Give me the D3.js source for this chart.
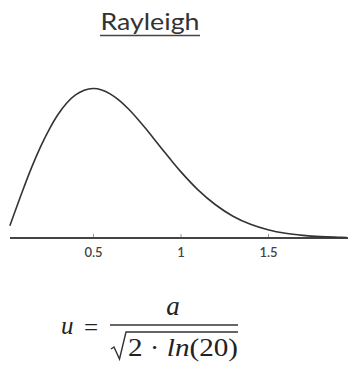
<!DOCTYPE html>
<html>
<head>
<meta charset="utf-8">
<script src="https://cdn.jsdelivr.net/npm/d3@7"></script>
<style>
  html, body { margin: 0; padding: 0; background: #fff; }
  svg { display: block; }
</style>
</head>
<body>
<svg id="chart" width="351" height="367"></svg>
<script>
// Density curve samples (x, density)
const xs = [0.025, 0.1, 0.15, 0.2, 0.25, 0.3, 0.35, 0.4, 0.45, 0.5, 0.55, 0.6, 0.65, 0.7, 0.75, 0.8, 0.85, 0.9, 0.95, 1.0, 1.1, 1.2, 1.3, 1.4, 1.5, 1.6, 1.7, 1.8, 1.9, 1.95];
const ys = [0.10, 0.392, 0.575, 0.739, 0.882, 1.002, 1.096, 1.162, 1.200, 1.213, 1.202, 1.168, 1.117, 1.051, 0.974, 0.890, 0.802, 0.713, 0.625, 0.541, 0.391, 0.270, 0.177, 0.111, 0.067, 0.038, 0.021, 0.011, 0.006, 0.004];
const tickValues = [0.5, 1, 1.5];
const tickLabels = ["0.5", "1", "1.5"];
const title = "Rayleigh";

const svg = d3.select("#chart");

const x = d3.scaleLinear().domain([0, 1]).range([5.5, 180.5]);
const y = d3.scaleLinear().domain([0, 1.25]).range([238, 84]);

// Title with underline
svg.append("text")
  .attr("x", 150).attr("y", 29.5)
  .attr("text-anchor", "middle")
  .attr("font-family", "Lato, 'Open Sans', sans-serif")
  .attr("font-size", 24)
  .attr("fill", "#333")
  .attr("textLength", 99)
  .attr("lengthAdjust", "spacingAndGlyphs")
  .text(title);
svg.append("line")
  .attr("x1", 100).attr("x2", 200)
  .attr("y1", 35.5).attr("y2", 35.5)
  .attr("stroke", "#444").attr("stroke-width", 1.5);

// Horizontal axis
svg.append("line")
  .attr("x1", 10).attr("x2", 348)
  .attr("y1", y(0)).attr("y2", y(0))
  .attr("stroke", "#444").attr("stroke-width", 2);

const axis = d3.axisBottom(x)
  .tickValues(tickValues)
  .tickFormat((d, i) => tickLabels[i])
  .tickSizeInner(-3)
  .tickSizeOuter(0)
  .tickPadding(11);
const ag = svg.append("g")
  .attr("transform", `translate(0,${y(0) - 1})`)
  .call(axis);
ag.select(".domain").remove();
ag.selectAll(".tick line").attr("stroke", "#999").attr("stroke-width", 1);
ag.selectAll(".tick text")
  .attr("font-family", "Lato, 'Open Sans', sans-serif")
  .attr("font-size", 13)
  .attr("font-weight", 600)
  .attr("fill", "#444");

// Density curve
const pts = xs.map((v, i) => [v, ys[i]]);
svg.append("path")
  .datum(pts)
  .attr("fill", "none")
  .attr("stroke", "#333")
  .attr("stroke-width", 1.6)
  .attr("d", d3.line().x(d => x(d[0])).y(d => y(d[1])).curve(d3.curveCatmullRom));

// Formula: u = a / sqrt(2 · ln(20))
const mathFont = "'Liberation Serif', 'DejaVu Serif', serif";
const f = svg.append("g").attr("fill", "#222").attr("font-family", mathFont).attr("font-size", 25);
f.append("text").attr("x", 61).attr("y", 334).attr("font-style", "italic").text("u");
f.append("text").attr("x", 84).attr("y", 336).text("=");
f.append("text").attr("x", 173).attr("y", 315).attr("text-anchor", "middle").attr("font-style", "italic").attr("font-size", 27).text("a");
svg.append("line")
  .attr("x1", 110).attr("x2", 238).attr("y1", 325).attr("y2", 325)
  .attr("stroke", "#333").attr("stroke-width", 1.4);
svg.append("path")
  .attr("d", "M111,349 L114,347 L119.5,359 L126,332 L238,332")
  .attr("fill", "none").attr("stroke", "#333").attr("stroke-width", 1.4);
const den = f.append("text").attr("x", 128).attr("y", 356)
  .attr("textLength", 110).attr("lengthAdjust", "spacingAndGlyphs");
den.append("tspan").text("2 · ");
den.append("tspan").attr("font-style", "italic").text("ln");
den.append("tspan").text("(20)");
</script>
</body>
</html>
